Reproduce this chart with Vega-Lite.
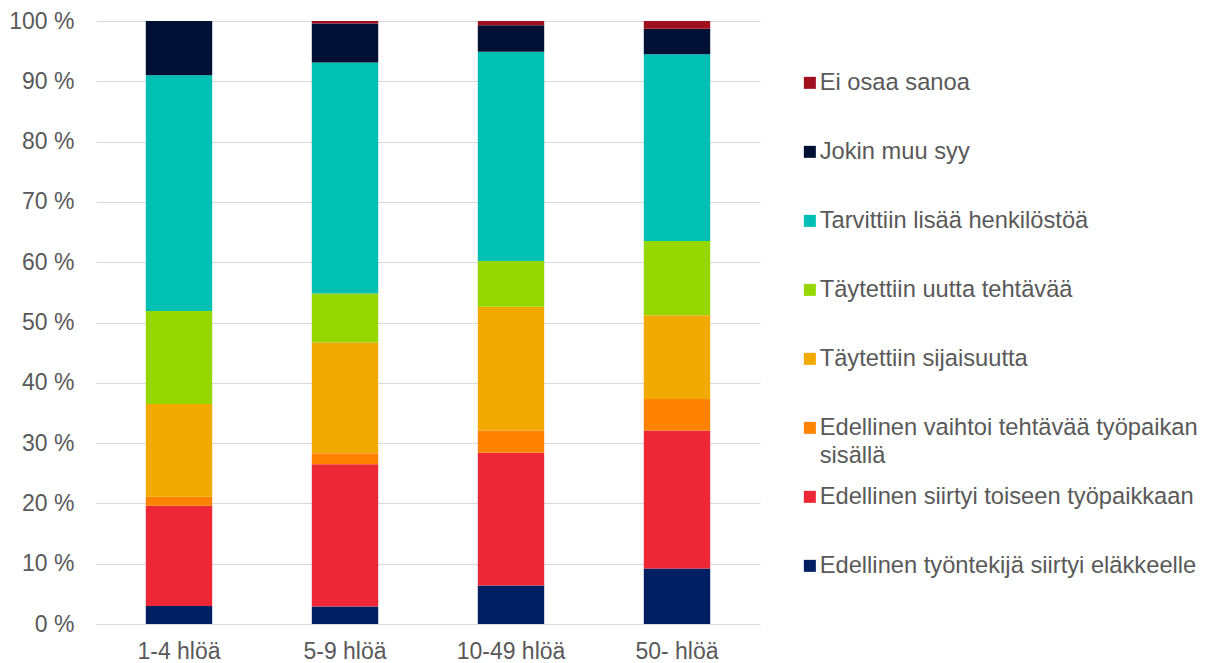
{
  "$schema": "https://vega.github.io/schema/vega-lite/v6.json",
  "width": 664,
  "height": 603,
  "autosize": {"type": "none"},
  "padding": {"left": 96, "top": 21, "right": 450, "bottom": 39},
  "config": {
    "font": "Liberation Sans",
    "view": {"stroke": null},
    "axis": {"labelFont": "Liberation Sans", "labelColor": "#595959", "title": null}
  },
  "data": {
    "values": [
      {"koko": "1-4 hlöä", "syy": "Edellinen työntekijä siirtyi eläkkeelle", "osuus": 3.0},
      {"koko": "1-4 hlöä", "syy": "Edellinen siirtyi toiseen työpaikkaan", "osuus": 16.6},
      {"koko": "1-4 hlöä", "syy": "Edellinen vaihtoi tehtävää työpaikan sisällä", "osuus": 1.5},
      {"koko": "1-4 hlöä", "syy": "Täytettiin sijaisuutta", "osuus": 15.4},
      {"koko": "1-4 hlöä", "syy": "Täytettiin uutta tehtävää", "osuus": 15.4},
      {"koko": "1-4 hlöä", "syy": "Tarvittiin lisää henkilöstöä", "osuus": 39.1},
      {"koko": "1-4 hlöä", "syy": "Jokin muu syy", "osuus": 9.0},
      {"koko": "1-4 hlöä", "syy": "Ei osaa sanoa", "osuus": 0.0},
      {"koko": "5-9 hlöä", "syy": "Edellinen työntekijä siirtyi eläkkeelle", "osuus": 2.9},
      {"koko": "5-9 hlöä", "syy": "Edellinen siirtyi toiseen työpaikkaan", "osuus": 23.6},
      {"koko": "5-9 hlöä", "syy": "Edellinen vaihtoi tehtävää työpaikan sisällä", "osuus": 1.8},
      {"koko": "5-9 hlöä", "syy": "Täytettiin sijaisuutta", "osuus": 18.4},
      {"koko": "5-9 hlöä", "syy": "Täytettiin uutta tehtävää", "osuus": 8.1},
      {"koko": "5-9 hlöä", "syy": "Tarvittiin lisää henkilöstöä", "osuus": 38.3},
      {"koko": "5-9 hlöä", "syy": "Jokin muu syy", "osuus": 6.5},
      {"koko": "5-9 hlöä", "syy": "Ei osaa sanoa", "osuus": 0.4},
      {"koko": "10-49 hlöä", "syy": "Edellinen työntekijä siirtyi eläkkeelle", "osuus": 6.4},
      {"koko": "10-49 hlöä", "syy": "Edellinen siirtyi toiseen työpaikkaan", "osuus": 22.0},
      {"koko": "10-49 hlöä", "syy": "Edellinen vaihtoi tehtävää työpaikan sisällä", "osuus": 3.7},
      {"koko": "10-49 hlöä", "syy": "Täytettiin sijaisuutta", "osuus": 20.5},
      {"koko": "10-49 hlöä", "syy": "Täytettiin uutta tehtävää", "osuus": 7.6},
      {"koko": "10-49 hlöä", "syy": "Tarvittiin lisää henkilöstöä", "osuus": 34.7},
      {"koko": "10-49 hlöä", "syy": "Jokin muu syy", "osuus": 4.4},
      {"koko": "10-49 hlöä", "syy": "Ei osaa sanoa", "osuus": 0.7},
      {"koko": "50- hlöä", "syy": "Edellinen työntekijä siirtyi eläkkeelle", "osuus": 9.2},
      {"koko": "50- hlöä", "syy": "Edellinen siirtyi toiseen työpaikkaan", "osuus": 22.9},
      {"koko": "50- hlöä", "syy": "Edellinen vaihtoi tehtävää työpaikan sisällä", "osuus": 5.2},
      {"koko": "50- hlöä", "syy": "Täytettiin sijaisuutta", "osuus": 13.9},
      {"koko": "50- hlöä", "syy": "Täytettiin uutta tehtävää", "osuus": 12.3},
      {"koko": "50- hlöä", "syy": "Tarvittiin lisää henkilöstöä", "osuus": 31.0},
      {"koko": "50- hlöä", "syy": "Jokin muu syy", "osuus": 4.2},
      {"koko": "50- hlöä", "syy": "Ei osaa sanoa", "osuus": 1.3}
    ]
  },
  "transform": [
    {"calculate": "indexof(['Edellinen työntekijä siirtyi eläkkeelle', 'Edellinen siirtyi toiseen työpaikkaan', 'Edellinen vaihtoi tehtävää työpaikan sisällä', 'Täytettiin sijaisuutta', 'Täytettiin uutta tehtävää', 'Tarvittiin lisää henkilöstöä', 'Jokin muu syy', 'Ei osaa sanoa'], datum.syy)", "as": "pino"}
  ],
  "mark": {"type": "bar"},
  "encoding": {
    "x": {
      "field": "koko",
      "type": "nominal",
      "sort": ["1-4 hlöä", "5-9 hlöä", "10-49 hlöä", "50- hlöä"],
      "scale": {"paddingInner": 0.6, "paddingOuter": 0.3},
      "axis": {"labelAngle": 0, "ticks": false, "domain": false, "labelPadding": 16, "labelBaseline": "top", "labelFontSize": 23}
    },
    "y": {
      "field": "osuus",
      "type": "quantitative",
      "stack": "zero",
      "scale": {"domain": [0, 100], "nice": false},
      "axis": {
        "values": [0, 10, 20, 30, 40, 50, 60, 70, 80, 90, 100],
        "labelExpr": "datum.value + ' %'",
        "labelFontSize": 23,
        "ticks": false,
        "domain": false,
        "labelPadding": 22,
        "gridColor": "#D9D9D9",
        "gridWidth": 1
      }
    },
    "color": {
      "field": "syy",
      "type": "nominal",
      "scale": {
        "domain": ["Ei osaa sanoa", "Jokin muu syy", "Tarvittiin lisää henkilöstöä", "Täytettiin uutta tehtävää", "Täytettiin sijaisuutta", "Edellinen vaihtoi tehtävää työpaikan sisällä", "Edellinen siirtyi toiseen työpaikkaan", "Edellinen työntekijä siirtyi eläkkeelle"],
        "range": ["#A00F1E", "#001035", "#00BFB3", "#97D700", "#F2A900", "#FF8200", "#EE2737", "#001E62"]
      },
      "legend": {
        "title": null,
        "orient": "none",
        "legendX": 702,
        "legendY": 50,
        "padding": 0,
        "columns": 1,
        "gridAlign": "all",
        "symbolType": "square",
        "symbolSize": 144,
        "symbolStrokeWidth": 0,
        "symbolOpacity": 1,
        "labelFont": "Liberation Sans",
        "labelFontSize": 23.7,
        "labelColor": "#595959",
        "labelOffset": -2,
        "labelLimit": 420,
        "rowPadding": 16,
        "labelExpr": "datum.label == 'Edellinen vaihtoi tehtävää työpaikan sisällä' ? ['Edellinen vaihtoi tehtävää työpaikan', 'sisällä'] : datum.label",
        "encode": {"labels": {"update": {"lineHeight": {"value": 28}}}}
      }
    },
    "order": {"field": "pino", "type": "quantitative", "sort": "ascending"}
  }
}
